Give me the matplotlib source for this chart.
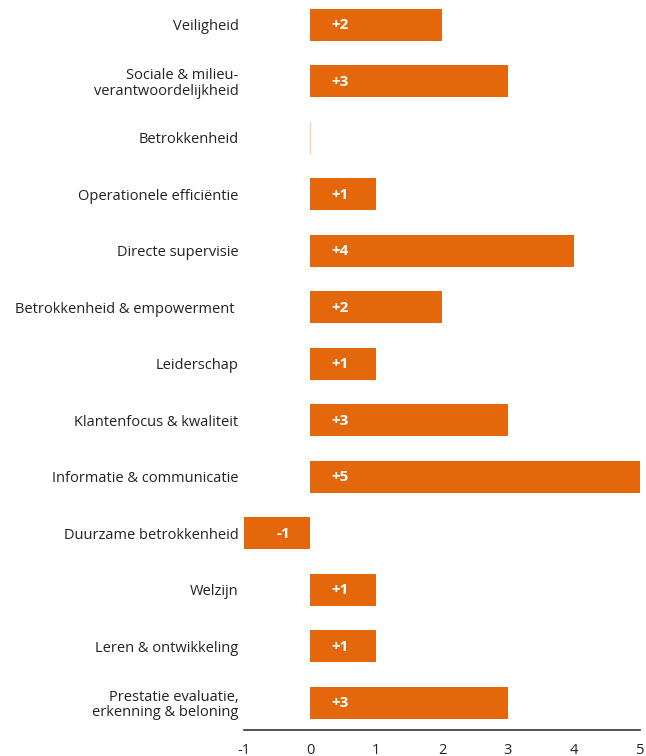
import matplotlib.pyplot as plt

categories = [
    "Veiligheid",
    "Sociale & milieu-\nverantwoordelijkheid",
    "Betrokkenheid",
    "Operationele efficiëntie",
    "Directe supervisie",
    "Betrokkenheid & empowerment ",
    "Leiderschap",
    "Klantenfocus & kwaliteit",
    "Informatie & communicatie",
    "Duurzame betrokkenheid",
    "Welzijn",
    "Leren & ontwikkeling",
    "Prestatie evaluatie,\nerkenning & beloning",
]
values = [2, 3, 0, 1, 4, 2, 1, 3, 5, -1, 1, 1, 3]
xticks = [-1, 0, 1, 2, 3, 4, 5]

orange = '#E4670C'
plt.rcParams['font.family'] = ['Open Sans', 'DejaVu Sans']

fig = plt.figure(figsize=(6.46, 7.56), dpi=100)
ax = fig.add_axes([244 / 646, 26 / 756, 396 / 646, 730 / 756])

ypos = list(range(len(categories)))
for y, v in zip(ypos, values):
    if v == 0:
        ax.barh(y, 0, height=0.57, color=orange, edgecolor='#F8CFAE', linewidth=1)
        continue
    ax.barh(y, v, height=0.57, color=orange, linewidth=0)
    label = f"+{v}" if v > 0 else f"{v}"
    xl = 0.45 if v > 0 else -0.4
    ax.text(xl, y - 0.02, label, ha='center', va='center_baseline', color='white',
            fontsize=11, fontweight='bold')

ax.set_xlim(-1, 5)
ax.set_ylim(12.48, -0.44)
ax.set_xticks(xticks)
ax.set_xticklabels([str(t) for t in xticks])
ax.set_yticks(ypos)
ax.set_yticklabels(categories, fontsize=10.5, color='#222222', linespacing=1.05)
ax.tick_params(axis='both', length=0, colors='#222222')
ax.tick_params(axis='y', pad=4)
ax.tick_params(axis='x', pad=9, labelsize=10.5)

for s in ['top', 'right', 'left']:
    ax.spines[s].set_visible(False)
ax.spines['bottom'].set_color('#333333')
ax.spines['bottom'].set_linewidth(1.2)

fig.savefig('out.png', dpi=100)
